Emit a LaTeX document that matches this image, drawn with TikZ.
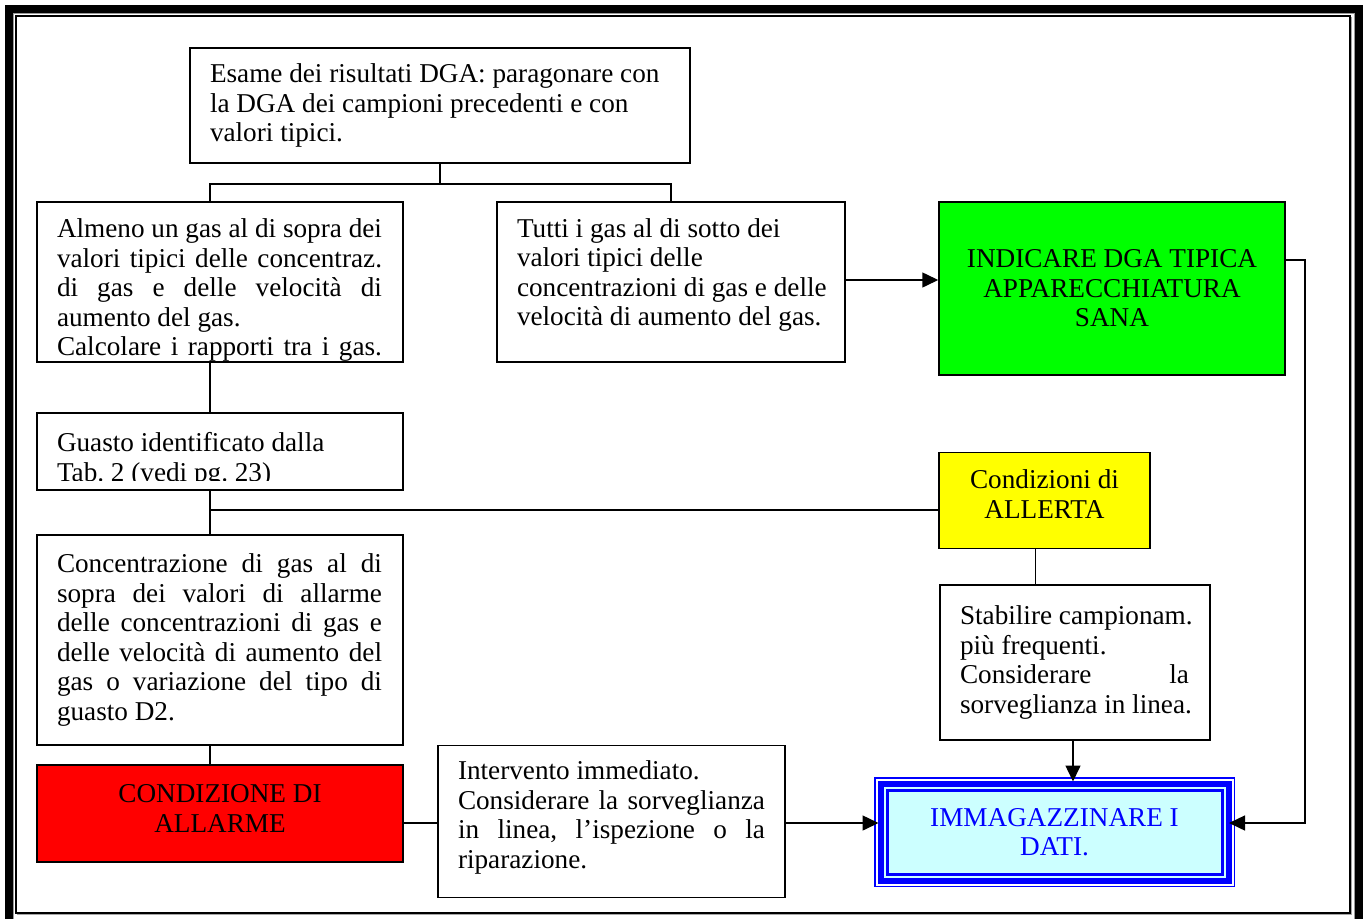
\documentclass[tikz,border=0pt]{standalone}
\usepackage{fontspec}
\setmainfont{Liberation Serif}
\usetikzlibrary{arrows.meta,calc}
\newcommand\jl[2]{\makebox[#1][s]{\spaceskip=0pt\xspaceskip=0pt #2}}
\newcommand\rl[1]{\mbox{\spaceskip=0pt\xspaceskip=0pt #1}}
\definecolor{boxgreen}{HTML}{00FF00}
\definecolor{boxyellow}{HTML}{FFFF00}
\definecolor{boxred}{HTML}{FF0000}
\definecolor{boxcyan}{HTML}{CCFFFF}
\definecolor{boxblue}{HTML}{0000FF}
\frenchspacing
\begin{document}
\begin{tikzpicture}[x=1pt,y=-1pt,
  txt/.style={inner sep=0pt, align=left, font=\fontsize{27.2}{29.5}\selectfont},
  ctxt/.style={inner sep=0pt, align=center, font=\fontsize{27.2}{29.5}\selectfont},
  box/.style={draw=black, line width=1.5pt, inner sep=0pt, font=\fontsize{27.2}{29.5}\selectfont},
  conn/.style={line width=1.5pt},
  arr/.style={line width=1.5pt, -{Triangle[length=16pt,width=15pt]}},
]
\useasboundingbox (0,0) rectangle (1367,918);
\begin{scope}
\clip (0,0) rectangle (1367,918);
\fill[white] (0,0) rectangle (1367,918);
% page frame
\draw[line width=8pt] (9,9) rectangle (1358.5,940);
\draw[black!40, line width=1pt] (13.5,13.5) rectangle (1354,940);
\draw[line width=1.6pt] (16,16) rectangle (1350,913);
\draw[black!35, line width=1pt] (1351.5,17) -- (1351.5,914.5) -- (17,914.5);
\end{scope}

% boxes and texts
\node[box, minimum width=500pt, minimum height=115pt] (top) at (440,105.5) {};
\node[txt, text width=460pt] (toptext) at (440,105.5)
  {\rl{Esame dei risultati DGA: paragonare con}\\
   \rl{la DGA dei campioni precedenti e con}\\
   \rl{valori tipici.}};

\node[box, minimum width=366pt, minimum height=160pt] (alm) at (220,282) {};
\node[txt, text width=326pt] (almtext) at (220,290)
  {\jl{325pt}{Almeno un gas al di sopra dei}\\
   \jl{325pt}{valori tipici delle concentraz.}\\
   \jl{325pt}{di gas e delle velocità di}\\
   \rl{aumento del gas.}\\
   \jl{325pt}{Calcolare i rapporti tra i gas.}};

\node[box, minimum width=348pt, minimum height=160pt] (mid) at (671,282) {};
\node[txt, text width=308pt] (midtext) at (671,275)
  {\rl{Tutti i gas al di sotto dei}\\
   \rl{valori tipici delle}\\
   \rl{concentrazioni di gas e delle}\\
   \rl{velocità di aumento del gas.}};

\node[box, fill=boxgreen, minimum width=346pt, minimum height=173pt] (green) at (1112,288.5) {};
\node[ctxt] (greentext) at (1112,288.5)
  {\rl{INDICARE DGA TIPICA}\\\rl{APPARECCHIATURA}\\\rl{SANA}};

\node[box, minimum width=366pt, minimum height=77pt] (guasto) at (220,451.5) {};
\begin{scope}
\clip (guasto.north west) rectangle ($(guasto.south east)+(0,-10)$);
\node[txt, text width=326pt] (guastotext) at (220,460)
  {\rl{Guasto identificato dalla}\\
   \rl{Tab. 2 (vedi pg. 23)}};
\end{scope}

\node[box, fill=boxyellow, minimum width=211pt, minimum height=96pt] (yellow) at (1044.5,500.5) {};
\node[ctxt] (yellowtext) at (1044.5,494) {\rl{Condizioni di}\\\rl{ALLERTA}};

\node[box, minimum width=366pt, minimum height=210pt] (conc) at (220,640) {};
\node[txt, text width=326pt] (conctext) at (220,640)
  {\jl{325pt}{Concentrazione di gas al di}\\
   \jl{325pt}{sopra dei valori di allarme}\\
   \jl{325pt}{delle concentrazioni di gas e}\\
   \jl{325pt}{delle velocità di aumento del}\\
   \jl{325pt}{gas o variazione del tipo di}\\
   \rl{guasto D2.}};

\node[box, fill=boxred, minimum width=366pt, minimum height=97pt] (red) at (220,813.5) {};
\node[ctxt] (redtext) at (220,808.5) {\rl{CONDIZIONE DI}\\\rl{ALLARME}};

\node[box, minimum width=347pt, minimum height=152pt] (interv) at (611.5,821.5) {};
\node[txt, text width=307pt] (intervtext) at (611.5,817.5)
  {\rl{Intervento immediato.}\\
   \jl{307pt}{Considerare la sorveglianza}\\
   \jl{307pt}{in linea, l’ispezione o la}\\
   \rl{riparazione.}};

\node[box, minimum width=270pt, minimum height=155pt] (stab) at (1075,662.5) {};
\node[txt, text width=230pt] (stabtext) at (1075,662.5)
  {\rl{Stabilire campionam.}\\
   \rl{più frequenti.}\\
   \jl{229pt}{Considerare la}\\
   \rl{sorveglianza in linea.}};

\node[box, draw=boxblue, line width=3pt, fill=boxcyan,
      minimum width=358pt, minimum height=107pt] (immag) at (1054.5,832) {};
\draw[white, line width=2pt] ($(immag.north west)+(2.5,2.5)$) rectangle ($(immag.south east)+(-2.5,-2.5)$);
\draw[boxblue, line width=6pt] ($(immag.north west)+(6.5,6.5)$) rectangle ($(immag.south east)+(-6.5,-6.5)$);
\draw[boxblue, line width=3pt] ($(immag.north west)+(13,13)$) rectangle ($(immag.south east)+(-13,-13)$);
\node[ctxt, text=boxblue] (immagtext) at (1054.5,832) {\rl{IMMAGAZZINARE I}\\\rl{DATI.}};

% connectors
\coordinate (j1) at ($(top.south)+(0,20)$);
\coordinate (ax) at ($(alm.north)+(-10,0)$);
\draw[conn] (top.south) -- (j1);
\draw[conn] (ax) |- (j1) -| (mid.north);
\draw[conn] ($(alm.south)+(-10,0)$) -- ($(guasto.north)+(-10,0)$);
\coordinate (gx) at ($(guasto.south)+(-10,0)$);
\draw[conn] (gx) -- ($(conc.north)+(-10,0)$);
\coordinate (yw) at (yellow.west |- 0,510);
\draw[conn] (yw) -- (yw -| gx);
\draw[conn] ($(conc.south)+(-10,0)$) -- ($(red.north)+(-10,0)$);
\coordinate (rx) at (red.east |- 0,823);
\draw[conn] (rx) -- (rx -| interv.west);
\coordinate (ix) at (interv.east |- 0,823);
\draw[arr] (ix) -- ($(ix -| immag.west)+(4.5,0)$);
\coordinate (ys) at ($(yellow.south)+(-9,0)$);
\draw[conn] (ys) -- (ys |- stab.north);
\coordinate (ss) at ($(stab.south)+(-2,0)$);
\draw[arr] (ss) -- ($(ss |- immag.north)+(0,4.5)$);
\coordinate (me) at (mid.east |- 0,280);
\draw[arr] (me) -- (me -| green.west);
\coordinate (ge) at (green.east |- 0,260);
\draw[arr] (ge) -- ++(19,0) |- ($(ix -| immag.east)+(-6,0)$);
\end{tikzpicture}
\end{document}
